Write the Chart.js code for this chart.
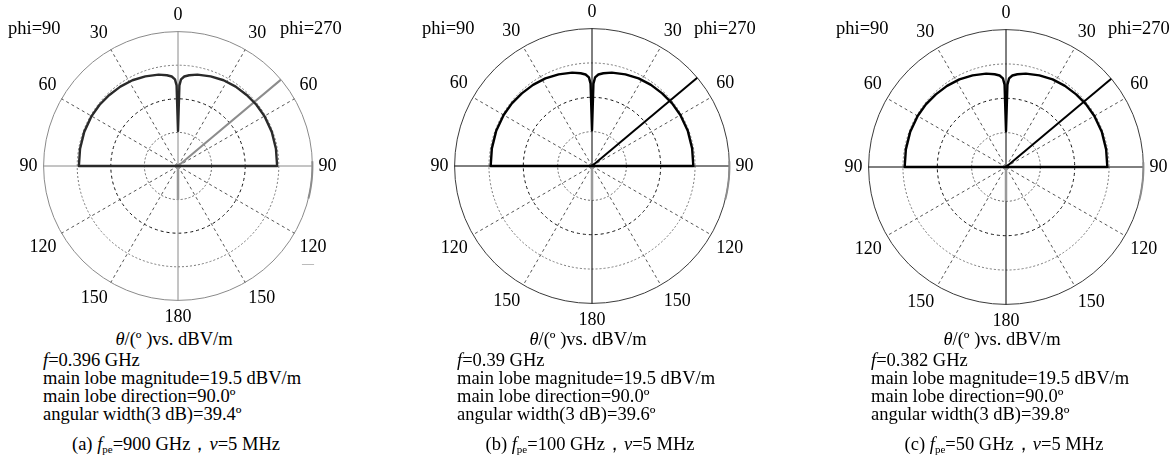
<!DOCTYPE html>
<html>
<head>
<meta charset="utf-8">
<script src="https://cdn.jsdelivr.net/npm/chart.js@4.4.1/dist/chart.umd.min.js"></script>
<style>
  html, body { margin:0; padding:0; background:#fff; }
  body { width:1174px; height:468px; position:relative; overflow:hidden;
         font-family:"Liberation Serif","Times New Roman",serif; color:#000; }
  .panel { position:absolute; top:0; width:414px; height:468px; }
  .panel canvas { position:absolute; }
  .txt { position:absolute; font-size:18.5px; line-height:18.3px; white-space:nowrap; }
  .center { text-align:center; }
  sub { font-size:11px; vertical-align:-3px; line-height:0; }
  .mark { position:absolute; color:#999; font-size:12px; }
</style>
</head>
<body>
<div id="figure"></div>
<script>
// ==================== data ====================

// angle grid: theta in degrees, clockwise from the top (0..359)
const tickAngles = [0, 30, 60, 90, 120, 150, 180];
const radialMin = -10, radialMax = 30, radialStep = 10;   // dB rings

// main pattern (same in the three cases), theta -> dBV/m, mirrored on both halves
const patternTheta = [0, 1, 2, 4, 7, 12, 20, 28, 36, 44, 52, 60, 70, 80, 90];
const patternDb    = [0.4, 14.0, 15.8, 16.7, 17.2, 17.8, 18.4, 18.9, 19.2, 19.4, 19.6, 19.7, 19.7, 19.6, 19.5];

// short grey stub towards theta=180, grey arc on the outer ring (phi=270 side)
const stubTheta = 180, stubDb = 0;
const arcTheta = [88, 104];

// per panel
const panelTags = ['(a)', '(b)', '(c)'];
const fpeGHz = [900, 100, 50];
const nuMHz = [5, 5, 5];
const freqGHz = ['0.396', '0.39', '0.382'];
const lobeMag = ['19.5', '19.5', '19.5'];
const lobeDir = ['90.0', '90.0', '90.0'];
const width3dB = ['39.4', '39.6', '39.8'];
const markerTheta = [50, 50, 50];

// look of each panel
const panelLeft = [0, 414, 828];
const canvasBox = [[16, 4, 325], [13, 2, 330], [13, 3, 330]];
const axisColor = ['#8a8a8a', '#000', '#000'];
const outerColor = ['#8a8a8a', '#3a3a3a', '#3a3a3a'];
const patternColor = ['#2a2a2a', '#000', '#000'];
const markerColor = ['#8c8c8c', '#000', '#000'];

const N = 360;
const angleIdx = Array.from({length: N}, (_, k) => k);
const FONT = '"Liberation Serif", "Times New Roman", serif';

function emptySeries() { return new Array(N).fill(null); }

function patternSeries() {
    let s = emptySeries();
    patternTheta.forEach((t, i) => {
        s[t] = patternDb[i];                  // phi=270 half
        if (t > 0) s[N - t] = patternDb[i];   // phi=90 half
    });
    s[180] = radialMin;                       // closes through the centre
    return s;
}

function markerSeries(i) {
    let s = emptySeries();
    s[markerTheta[i]] = radialMax;
    s[markerTheta[i] + 1] = radialMin;
    return s;
}

function stubSeries() {
    let s = emptySeries();
    s[stubTheta] = stubDb;
    s[stubTheta + 1] = radialMin;
    return s;
}

function arcSeries() {
    let s = emptySeries();
    for (let t = arcTheta[0]; t <= arcTheta[1]; t++) s[t] = radialMax;
    return s;
}

function buildPanel(i) {
    let ox = panelLeft[i];
    let [cx, cy, size] = canvasBox[i];
    let html = `<div class="panel" style="left:${ox}px">
        <canvas id="polar${i}" width="${size}" height="${size}" style="left:${cx}px; top:${cy}px; width:${size}px; height:${size}px"></canvas>
        <div class="txt" style="left:8px; top:18.6px">phi=90</div>
        <div class="txt" style="left:280px; top:18.6px">phi=270</div>
        <div class="txt center" style="left:74px; width:200px; top:329.6px"><i>θ</i>/(º )vs. dBV/m</div>
        <div class="txt" style="left:43px; top:350.6px">
            <div><i>f</i>=${freqGHz[i]} GHz</div>
            <div>main lobe magnitude=${lobeMag[i]} dBV/m</div>
            <div>main lobe direction=${lobeDir[i]}º</div>
            <div>angular width(3 dB)=${width3dB[i]}º</div>
        </div>
        <div class="txt center" style="left:26px; width:300px; top:434.6px">${panelTags[i]} <i>f</i><sub>pe</sub>=${fpeGHz[i]} GHz，<i>v</i>=${nuMHz[i]} MHz</div>
        ${i === 0 ? '<div class="mark" style="left:302px; top:256px">—</div>' : ''}
    </div>`;
    document.getElementById('figure').insertAdjacentHTML('beforeend', html);

    let ringStyle = v => {
        if (v === radialMax) return { color: outerColor[i], dash: [] };
        if (v === radialMax - radialStep) return { color: '#777', dash: [2, 2] };
        if (v === 0) return { color: '#666', dash: [2, 2] };
        return { color: '#111', dash: [3, 3] };
    };

    new Chart(document.getElementById('polar' + i), {
        type: 'radar',
        data: {
            labels: angleIdx,
            datasets: [
                { data: patternSeries(), borderColor: patternColor[i], borderWidth: 2.4, spanGaps: true },
                { data: markerSeries(i), borderColor: markerColor[i], borderWidth: 2, spanGaps: false },
                { data: stubSeries(), borderColor: '#999', borderWidth: 2.5, spanGaps: false },
                { data: arcSeries(), borderColor: '#8c8c8c', borderWidth: 2, spanGaps: false }
            ]
        },
        options: {
            responsive: false,
            animation: false,
            events: [],
            plugins: { legend: { display: false }, tooltip: { enabled: false } },
            elements: {
                point: { radius: 0 },
                line: { tension: 0, fill: false, borderJoinStyle: 'round', borderCapStyle: 'butt' }
            },
            scales: {
                r: {
                    min: radialMin, max: radialMax,
                    ticks: { display: false, stepSize: radialStep },
                    grid: {
                        circular: true, lineWidth: 1,
                        color: ctx => ringStyle(ctx.tick.value).color
                    },
                    border: { dash: ctx => ringStyle(ctx.tick.value).dash },
                    angleLines: {
                        color: ctx => ctx.index % 90 === 0 ? axisColor[i] : '#2a2a2a',
                        lineWidth: ctx => ctx.index % 30 === 0 ? (ctx.index % 90 === 0 ? 1 : 0.8) : 0,
                        borderDash: ctx => ctx.index % 90 === 0 ? [] : [3, 3]
                    },
                    pointLabels: {
                        display: true,
                        padding: 6,
                        color: '#000',
                        font: { family: FONT, size: 18 },
                        callback: (label, index) => {
                            let theta = index <= 180 ? index : N - index;
                            return tickAngles.includes(theta) && (index % 30 === 0) ? String(theta) : '';
                        }
                    }
                }
            }
        }
    });
}

[0, 1, 2].forEach(buildPanel);
</script>
</body>
</html>
